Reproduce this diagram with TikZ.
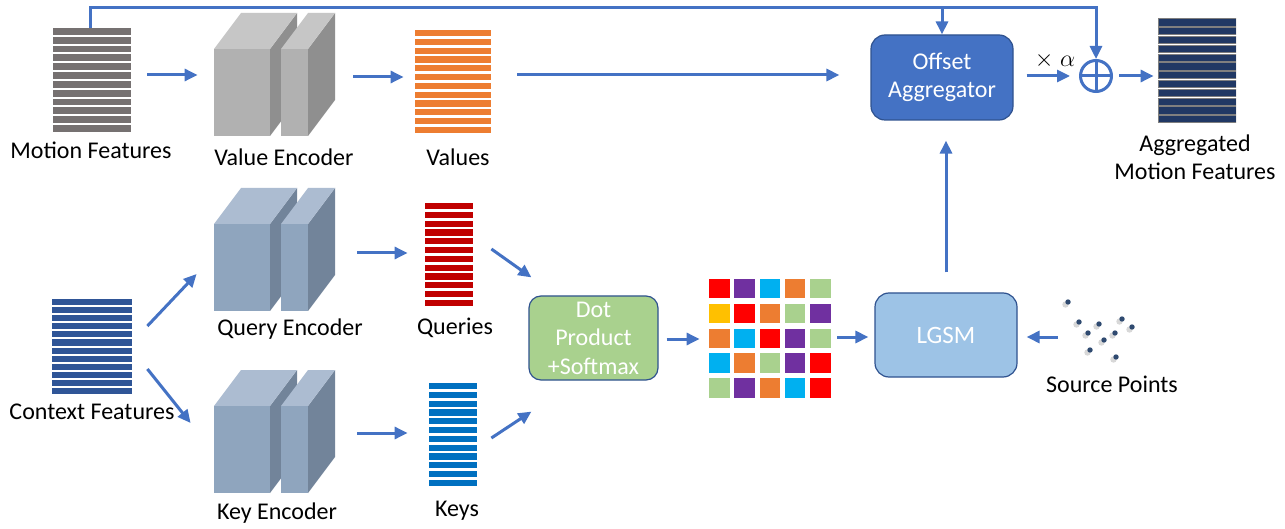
\documentclass[tikz,border=0pt]{standalone}
\usepackage{fontspec}
\setmainfont{Carlito}
\usetikzlibrary{arrows.meta,calc}
\definecolor{arrblue}{HTML}{4472C4}
\definecolor{boxborder}{HTML}{2F528F}
\definecolor{offblue}{HTML}{4472C4}
\definecolor{lgsmblue}{HTML}{9DC3E6}
\definecolor{dotgreen}{HTML}{A9D18E}
\definecolor{mfgray}{HTML}{767171}
\definecolor{valorange}{HTML}{ED7D31}
\definecolor{qred}{HTML}{C00000}
\definecolor{kblue}{HTML}{0070C0}
\definecolor{ctxblue}{HTML}{2F5597}
\definecolor{aggnavy}{HTML}{203864}
\definecolor{aggedge}{HTML}{7F7F7F}
\definecolor{gF}{HTML}{B1B1B1}
\definecolor{gT}{HTML}{C6C6C6}
\definecolor{gS}{HTML}{8F8F8F}
\definecolor{bF}{HTML}{8FA5BE}
\definecolor{bT}{HTML}{ACBCD1}
\definecolor{bS}{HTML}{72849A}
\definecolor{mred}{HTML}{FF0000}
\definecolor{mpur}{HTML}{7030A0}
\definecolor{mcya}{HTML}{00B0F0}
\definecolor{mora}{HTML}{ED7D31}
\definecolor{mgre}{HTML}{A9D18E}
\definecolor{mgol}{HTML}{FFC000}
\definecolor{ptcol}{HTML}{2F4A70}
\tikzset{
  arr/.style={draw=arrblue, line width=1.5pt, -{Triangle[length=6.5pt,width=6pt]}},
  lbl/.style={font=\fontsize{12}{14}\selectfont, inner sep=0, align=center},
  box/.style={rounded corners=7pt, draw=boxborder, line width=0.6pt, text=white,
     align=center, inner sep=0, font=\fontsize{12}{14.2}\selectfont},
  stack/.style n args={5}{inner sep=0, minimum width=#1, minimum height=#2,
    path picture={
      \coordinate (pnw) at (path picture bounding box.north west);
      \coordinate (pne) at (path picture bounding box.north east);
      \coordinate (psw) at ($(path picture bounding box.south west)+(0,#4)$);
      \coordinate (pse) at ($(path picture bounding box.south east)+(0,#4)$);
      \foreach \i in {0,...,11}{
        \pgfmathsetmacro\ta{\i/12}
        \pgfmathsetmacro\tb{(\i+1)/12}
        \filldraw[fill=#3, draw=#5, line width=0.5pt] ($(pnw)!\ta!(psw)$) rectangle ($(pne)!\tb!(pse)+(0,-#4)$);
      }
    }},
  pics/encoder/.style n args={3}{code={
    \fill[#3] (56,0) -- (83,-36) -- (83,51) -- (56,87) -- cycle;
    \fill[#2] (0,0) -- (27,-36) -- (83,-36) -- (56,0) -- cycle;
    \fill[#1] (0,0) rectangle (56,87);
    \fill[#3] (94,0) -- (121,-36) -- (121,51) -- (94,87) -- cycle;
    \fill[#2] (67,0) -- (94,-36) -- (121,-36) -- (94,0) -- cycle;
    \fill[#1] (67,0) rectangle (94,87);
    \node[inner sep=0, minimum width=47pt, minimum height=43.5pt] (-f) at (47,43.5) {};
  }}
}
\begin{document}
\begin{tikzpicture}[x=0.5pt,y=-0.5pt]
\fill[white] (0,0) rectangle (1285,529);
\useasboundingbox (0,0) rectangle (1285,529);

% feature stacks
\node[stack={39pt}{52pt}{mfgray}{2}{none}] (mf) at (92,80) {};
\node[stack={38pt}{51.5pt}{valorange}{2.7}{none}] (values) at (453,81.5) {};
\node[stack={24pt}{51.5pt}{qred}{2.6}{none}] (queries) at (449,254.5) {};
\node[stack={24pt}{51.5pt}{kblue}{2.7}{none}] (keys) at (453,434.5) {};
\node[stack={40pt}{47.5pt}{ctxblue}{2}{none}] (ctx) at (92,346.5) {};
\node[stack={39pt}{52pt}{aggnavy}{1.6}{aggedge}] (agg) at (1197,71) {};

% encoders
\pic (venc) at (214,49) {encoder={gF}{gT}{gS}};
\pic (qenc) at (214,224) {encoder={bF}{bT}{bS}};
\pic (kenc) at (214,406) {encoder={bF}{bT}{bS}};

% boxes
\node[box, fill=dotgreen, minimum width=64.5pt, minimum height=42pt, rounded corners=6pt] (dot) at (593.5,338) {Dot\\Product\\+Softmax};
\node[box, fill=lgsmblue, minimum width=71pt, minimum height=42pt, font=\fontsize{12.5}{15}\selectfont] (lgsm) at (946,335) {LGSM};
\node[box, fill=offblue, minimum width=71pt, minimum height=42.5pt] (off) at (942,77.5) {Offset\\Aggregator};

% plus
\node[circle, draw=arrblue, line width=1.5pt, minimum size=15.5pt, inner sep=0] (plus) at (1096,76) {};
\draw[arrblue, line width=1.5pt] ($(plus.center)+(0,-15.5)$) -- ($(plus.center)+(0,15.5)$);
\draw[arrblue, line width=1.5pt] ($(plus.center)+(-15.5,0)$) -- ($(plus.center)+(15.5,0)$);

% matrix
\node[inner sep=0, minimum width=61pt, minimum height=59pt] (mat) at (770,338) {};
\foreach \row [count=\r from 0] in {{mred,mpur,mcya,mora,mgre},{mgol,mred,mora,mgre,mpur},{mora,mcya,mred,mpur,mgre},{mcya,mora,mgre,mpur,mred},{mgre,mpur,mora,mcya,mred}}{
  \foreach \c [count=\k from 0] in \row {
    \fill[\c] ({709+25.3*\k},{279+24.8*\r}) rectangle ++(20.5,19.5);
  }
}

% source points
\node[inner sep=0, minimum width=35pt, minimum height=30pt] (pts) at (1100,330) {};
\foreach \p in {(1068,302),(1079,322),(1099,324),(1122,319),(1132,327),(1088,333),(1115,333),(1104,340),(1090,350),(1116,357)}{
  \fill[black!25, opacity=0.6] \p ++(-2.5,2.5) circle (3.2);
  \fill[ptcol] \p circle (2.7);
}

% labels
\node[lbl] (mfl) at (91,150) {Motion Features};
\node[lbl] (vencl) at (284,157) {Value Encoder};
\node[lbl] (valuesl) at (458,157) {Values};
\node[lbl] (qencl) at (290,329) {Query Encoder};
\node[lbl] (queriesl) at (455,328) {Queries};
\node[lbl] (ctxl) at (92,412) {Context Features};
\node[lbl] (kencl) at (277,513) {Key Encoder};
\node[lbl] (keysl) at (457,511) {Keys};
\node[lbl] (ptsl) at (1112,384) {Source Points};
\node[lbl] (aggl) at (1195,157) {Aggregated\\Motion Features};
\node[lbl] (alpha) at (1055,61) {$\times\;\alpha$};

% connectors
\draw[arr] ($(mf.east)+(16,-5)$) -- ($(venc-f.west)+(-16,-17.5)$);
\draw[arr] ($(venc-f.east)+(45,-15.5)$) -- ($(values.west)+(-11,-4.5)$);
\draw[arr] ($(values.east)+(26,-6.5)$) -- ($(off.west)+(-31,-2.5)$);
\draw[arr] ($(ctx.east)+(15,-20.5)$) -- ($(qenc-f.west)+(-17,6.5)$);
\draw[arr] ($(ctx.east)+(15,22.5)$) -- ($(kenc-f.west)+(-23,-26.5)$);
\draw[arr] ($(qenc-f.east)+(49,-14.5)$) -- ($(queries.west)+(-17,-1.5)$);
\draw[arr] ($(kenc-f.east)+(49,-16.5)$) -- ($(keys.west)+(-21,-1.5)$);
\draw[arr] ($(queries.east)+(18,-5.5)$) -- ($(dot.north west)+(3,-18)$);
\draw[arr] ($(keys.east)+(14,3.5)$) -- ($(dot.south west)+(3,31)$);
\draw[arr] ($(dot.east)+(8,1)$) -- ($(mat.west)+(-9,1)$);
\draw[arr] ($(mat.east)+(6,-1)$) -- ($(lgsm.west)+(-6,2)$);
\draw[arr] ($(pts.west)+(-7,7)$) -- ($(lgsm.east)+(9,2)$);
\draw[arr] ($(lgsm.north)+(0,-20)$) -- ($(off.south)+(4,20)$);
\draw[arr] ($(off.east)+(13,-1.5)$) -- ($(plus.west)+(-9,0)$);
\draw[arr] ($(plus.east)+(6,0)$) -- ($(agg.west)+(-4,5)$);
\coordinate (topline) at ($(mf.north)+(-2,-20)$);
\draw[arr] ($(mf.north)+(-2,0)$) -- (topline) -| (plus.north);
\draw[arr] (topline -| off.north) -- (off.north);
\end{tikzpicture}
\end{document}
